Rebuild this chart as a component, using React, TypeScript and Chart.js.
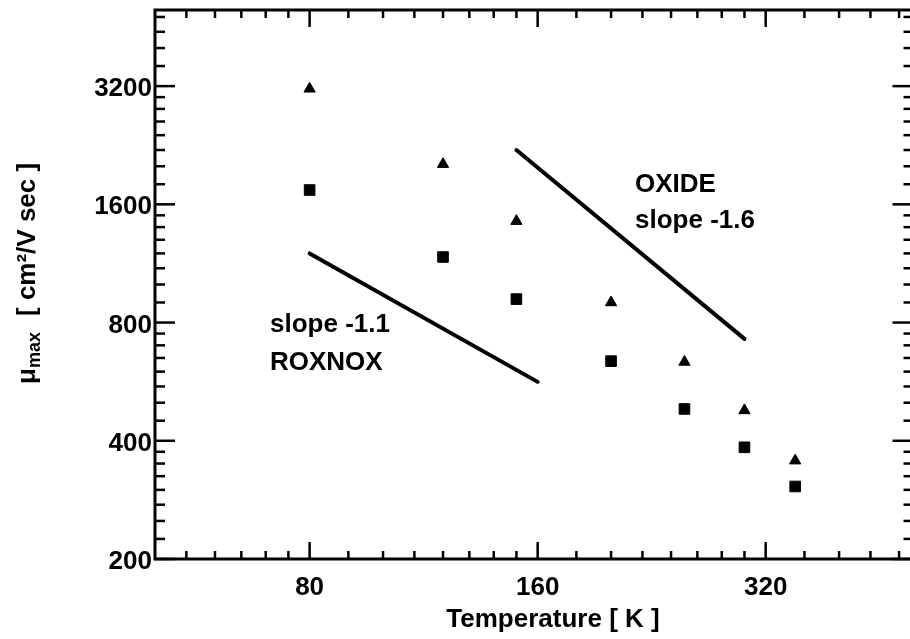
import React, { useEffect, useRef } from "react";
import { Chart, registerables } from "chart.js";

Chart.register(...registerables);

// ---- data (log-log plot) ----
const temperatures = [80, 120, 150, 200, 250, 300, 350];
const triangleMobility = [3150, 2025, 1450, 900, 635, 478, 356];
const squareMobility = [1740, 1175, 918, 638, 482, 385, 306];

const roxnoxLineT = [80, 160];
const roxnoxLineMu = [1200, 565];
const oxideLineT = [150, 300];
const oxideLineMu = [2200, 727];

const xMajorTicks = [80, 160, 320];
const yMajorTicks = [200, 400, 800, 1600, 3200];
const xRange = [50, 500];
const yRange = [200, 5000];

const FONT = '"Liberation Sans", Arial, Helvetica, sans-serif';

function minorTicks(majors: number[], lo: number, hi: number): number[] {
  const out: number[] = [];
  const bases = [majors[0] / 2, ...majors];
  for (const b of bases) {
    for (let k = 1; k <= 7; k++) {
      const v = b * (1 + k / 8);
      if (v > lo && v < hi) out.push(v);
    }
  }
  return out;
}

const framePlugin = {
  id: "frameAndTicks",
  afterDraw(chart: any) {
    const { ctx, chartArea: a } = chart;
    const xs = chart.scales.x;
    const ys = chart.scales.y;
    ctx.save();
    ctx.strokeStyle = "#000";
    ctx.fillStyle = "#000";
    ctx.lineWidth = 3;
    ctx.strokeRect(a.left, a.top, a.right - a.left, a.bottom - a.top);

    const seg = (x1: number, y1: number, x2: number, y2: number) => {
      ctx.beginPath();
      ctx.moveTo(x1, y1);
      ctx.lineTo(x2, y2);
      ctx.stroke();
    };
    ctx.lineWidth = 2.5;
    const xMin = minorTicks(xMajorTicks, xRange[0], xRange[1]).filter(
      (v) => !xMajorTicks.includes(v)
    );
    const yMin = minorTicks(yMajorTicks, yRange[0], yRange[1]).filter(
      (v) => !yMajorTicks.includes(v)
    );
    for (const v of xMajorTicks) {
      const p = xs.getPixelForValue(v);
      seg(p, a.bottom, p, a.bottom - 17);
      seg(p, a.top, p, a.top + 17);
    }
    for (const v of xMin) {
      const p = xs.getPixelForValue(v);
      seg(p, a.bottom, p, a.bottom - 8);
      seg(p, a.top, p, a.top + 8);
    }
    for (const v of yMajorTicks) {
      const p = ys.getPixelForValue(v);
      seg(a.left, p, a.left + 20, p);
      seg(a.right, p, a.right - 20, p);
    }
    for (const v of yMin) {
      const p = ys.getPixelForValue(v);
      seg(a.left, p, a.left + 10, p);
      seg(a.right, p, a.right - 9, p);
    }

    // tick labels
    ctx.font = `bold 26px ${FONT}`;
    ctx.textBaseline = "alphabetic";
    ctx.textAlign = "right";
    for (const v of yMajorTicks) {
      const p = ys.getPixelForValue(v);
      ctx.fillText(String(v), a.left - 3, p + 10);
    }
    ctx.textAlign = "center";
    for (const v of xMajorTicks) {
      const p = xs.getPixelForValue(v);
      ctx.fillText(String(v), p, a.bottom + 36);
    }

    // x title
    ctx.fillText("Temperature [ K ]", 553, 627);

    // y title (rotated)
    ctx.save();
    ctx.translate(35, 384);
    ctx.rotate(-Math.PI / 2);
    ctx.textAlign = "left";
    ctx.font = `bold 26px ${FONT}`;
    ctx.fillText("\u03bc", 0, 0);
    const w = ctx.measureText("\u03bc").width;
    ctx.font = `bold 18px ${FONT}`;
    ctx.fillText("max", w, 5);
    ctx.font = `bold 26px ${FONT}`;
    ctx.fillText("[ cm\u00b2/V sec ]", 384 - 316, 0);
    ctx.restore();

    // annotations
    ctx.textAlign = "left";
    ctx.font = `bold 26px ${FONT}`;
    ctx.fillText("slope -1.1", 270, 332);
    ctx.fillText("ROXNOX", 270, 370);
    ctx.fillText("OXIDE", 635, 192);
    ctx.fillText("slope -1.6", 635, 228);
    ctx.restore();
  },
};

export default function App() {
  const ref = useRef<HTMLCanvasElement | null>(null);
  useEffect(() => {
    const canvas = ref.current;
    if (!canvas) return;
    const chart = new Chart(canvas, {
      type: "scatter",
      data: {
        datasets: [
          {
            label: "triangles",
            data: temperatures.map((t, i) => ({ x: t, y: triangleMobility[i] })),
            pointStyle: "triangle",
            pointRadius: 6.5,
            backgroundColor: "#000",
            borderColor: "#000",
            borderWidth: 1,
          },
          {
            label: "squares",
            data: temperatures.map((t, i) => ({ x: t, y: squareMobility[i] })),
            pointStyle: "rect",
            pointRadius: 7.5,
            backgroundColor: "#000",
            borderColor: "#000",
            borderWidth: 1,
          },
          {
            label: "ROXNOX slope -1.1",
            data: roxnoxLineT.map((t, i) => ({ x: t, y: roxnoxLineMu[i] })),
            showLine: true,
            pointRadius: 0,
            borderColor: "#000",
            borderWidth: 4,
            borderCapStyle: "round",
          },
          {
            label: "OXIDE slope -1.6",
            data: oxideLineT.map((t, i) => ({ x: t, y: oxideLineMu[i] })),
            showLine: true,
            pointRadius: 0,
            borderColor: "#000",
            borderWidth: 4,
            borderCapStyle: "round",
          },
        ],
      },
      options: {
        animation: false,
        responsive: false,
        devicePixelRatio: 1,
        layout: { padding: { top: 10, right: 1, left: 0, bottom: 0 } },
        plugins: { legend: { display: false }, tooltip: { enabled: false } },
        scales: {
          x: {
            type: "logarithmic",
            min: xRange[0],
            max: xRange[1],
            ticks: { display: false },
            grid: { display: false },
            border: { display: false },
            afterFit: (s: any) => {
              s.height = 80;
            },
          },
          y: {
            type: "logarithmic",
            min: yRange[0],
            max: yRange[1],
            ticks: { display: false },
            grid: { display: false },
            border: { display: false },
            afterFit: (s: any) => {
              s.width = 155;
            },
          },
        },
      } as any,
      plugins: [framePlugin],
    });
    return () => chart.destroy();
  }, []);

  return (
    <div
      style={{
        position: "absolute",
        left: 0,
        top: 0,
        width: 910,
        height: 639,
        overflow: "hidden",
        background: "#fff",
      }}
    >
      <canvas ref={ref} width={921} height={639} style={{ width: 921, height: 639, display: "block" }} />
    </div>
  );
}
